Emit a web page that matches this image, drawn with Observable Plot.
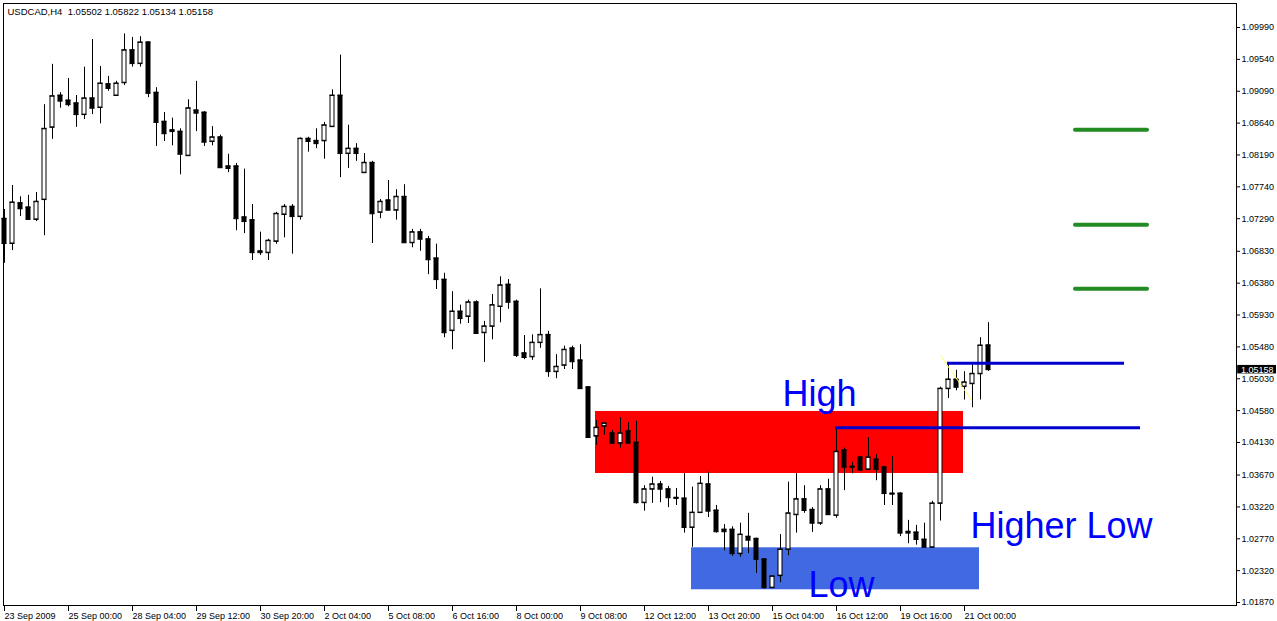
<!DOCTYPE html>
<html><head><meta charset="utf-8">
<script src="https://cdn.jsdelivr.net/npm/d3@7"></script>
<script src="https://cdn.jsdelivr.net/npm/@observablehq/plot@0.6"></script>
<style>body{margin:0;background:#fff;overflow:hidden}svg{display:block}</style>
</head><body><div id="chart"></div>
<script>
// ---- data (USDCAD H4 candles, left to right) ----
const opens = [1.0729,1.0694,1.0751,1.0745,1.0728,1.0756,1.0858,1.0903,1.0896,1.0892,1.0876,1.0899,1.0886,1.0919,1.0903,1.0921,1.0967,1.0948,1.0978,1.0907,1.0866,1.0854,1.0852,1.0818,1.0882,1.0879,1.0838,1.0844,1.0803,1.0803,1.0731,1.0727,1.0683,1.0681,1.0697,1.0735,1.0746,1.0732,1.0842,1.0839,1.0839,1.0859,1.0903,1.0821,1.0828,1.0794,1.0808,1.0738,1.0755,1.0741,1.0760,1.0695,1.0710,1.0700,1.0673,1.0643,1.0571,1.0598,1.0591,1.0611,1.0568,1.0577,1.0605,1.0636,1.0612,1.0539,1.0534,1.0554,1.0565,1.0513,1.0522,1.0546,1.0529,1.0491,1.0422,1.0436,1.0426,1.0412,1.0429,1.0413,1.0328,1.0347,1.0354,1.0347,1.0335,1.0334,1.0293,1.0314,1.0354,1.0317,1.0290,1.0290,1.0256,1.0280,1.0277,1.0248,1.0208,1.0225,1.0262,1.0311,1.0333,1.0318,1.0299,1.0347,1.0310,1.0402,1.0379,1.0392,1.0375,1.0389,1.0378,1.0341,1.0341,1.0287,1.0286,1.0276,1.0265,1.0327,1.0489,1.0502,1.0492,1.0496,1.0510,1.05502];
const highs = [1.0742,1.0776,1.0760,1.0762,1.0766,1.0890,1.0947,1.0907,1.0927,1.0903,1.0943,1.0982,1.0944,1.0930,1.0923,1.0990,1.0985,1.0986,1.0979,1.0914,1.0879,1.0871,1.0856,1.0897,1.0923,1.0880,1.0859,1.0847,1.0820,1.0807,1.0799,1.0749,1.0710,1.0700,1.0738,1.0749,1.0749,1.0843,1.0844,1.0856,1.0865,1.0911,1.0960,1.0861,1.0835,1.0821,1.0810,1.0756,1.0783,1.0770,1.0777,1.0714,1.0714,1.0704,1.0693,1.0652,1.0626,1.0607,1.0614,1.0613,1.0584,1.0622,1.0647,1.0643,1.0614,1.0564,1.0565,1.0630,1.0570,1.0537,1.0549,1.0549,1.0551,1.0491,1.0444,1.0441,1.0430,1.0448,1.0441,1.0443,1.0352,1.0364,1.0358,1.0351,1.0348,1.0369,1.0350,1.0365,1.0371,1.0324,1.0297,1.0294,1.0299,1.0313,1.0278,1.0249,1.0225,1.0283,1.0357,1.0369,1.0352,1.0321,1.0352,1.0361,1.0434,1.0405,1.0385,1.0393,1.0420,1.0396,1.0379,1.0393,1.0342,1.0303,1.0296,1.0299,1.0330,1.0491,1.0526,1.0515,1.0513,1.0523,1.0561,1.05822];
const lows = [1.0666,1.0684,1.0732,1.0727,1.0725,1.0705,1.0841,1.0885,1.0887,1.0858,1.0869,1.0876,1.0863,1.0909,1.0903,1.0917,1.0943,1.0943,1.0900,1.0831,1.0838,1.0832,1.0791,1.0817,1.0852,1.0831,1.0832,1.0800,1.0794,1.0712,1.0708,1.0670,1.0677,1.0670,1.0693,1.0702,1.0679,1.0727,1.0823,1.0828,1.0813,1.0858,1.0787,1.0800,1.0810,1.0794,1.0694,1.0729,1.0741,1.0727,1.0695,1.0688,1.0683,1.0650,1.0629,1.0561,1.0544,1.0580,1.0581,1.0567,1.0526,1.0558,1.0582,1.0601,1.0533,1.0530,1.0529,1.0546,1.0505,1.0503,1.0516,1.0516,1.0489,1.0419,1.0409,1.0423,1.0410,1.0405,1.0411,1.0326,1.0316,1.0327,1.0328,1.0321,1.0324,1.0285,1.0265,1.0313,1.0307,1.0285,1.0260,1.0252,1.0251,1.0256,1.0228,1.0206,1.0207,1.0215,1.0253,1.0285,1.0313,1.0286,1.0296,1.0310,1.0306,1.0345,1.0369,1.0372,1.0374,1.0359,1.0324,1.0324,1.0280,1.0270,1.0268,1.0265,1.0264,1.0302,1.0475,1.0486,1.0473,1.0462,1.0473,1.05134];
const closes = [1.0694,1.0752,1.0743,1.0728,1.0753,1.0856,1.0902,1.0895,1.0890,1.0876,1.0899,1.0885,1.0920,1.0913,1.0920,1.0967,1.0948,1.0978,1.0906,1.0865,1.0849,1.0852,1.0820,1.0885,1.0878,1.0837,1.0844,1.0801,1.0800,1.0729,1.0725,1.0681,1.0681,1.0698,1.0736,1.0746,1.0732,1.0842,1.0838,1.0835,1.0861,1.0903,1.0821,1.0828,1.0821,1.0808,1.0736,1.0753,1.0741,1.0760,1.0695,1.0710,1.0700,1.0671,1.0643,1.0568,1.0598,1.0588,1.0611,1.0567,1.0577,1.0607,1.0635,1.0611,1.0536,1.0533,1.0554,1.0565,1.0513,1.0520,1.0544,1.0527,1.0489,1.0420,1.0434,1.0440,1.0412,1.0426,1.0412,1.0328,1.0347,1.0354,1.0347,1.0335,1.0334,1.0293,1.0314,1.0355,1.0316,1.0287,1.0287,1.0256,1.0283,1.0275,1.0248,1.0208,1.0224,1.0262,1.0313,1.0333,1.0317,1.0299,1.0347,1.0311,1.0400,1.0378,1.0378,1.0374,1.0392,1.0375,1.0341,1.0340,1.0285,1.0285,1.0276,1.0265,1.0327,1.0489,1.0502,1.0491,1.0498,1.0510,1.0550,1.05158];

const headerText = "USDCAD,H4\u00a0\u00a01.05502 1.05822 1.05134 1.05158";
const yTicks = [1.09990,1.09540,1.09090,1.08640,1.08190,1.07740,1.07290,1.06830,1.06380,1.05930,1.05480,1.05030,1.04580,1.04130,1.03670,1.03220,1.02770,1.02320,1.01870];
const xTickIdx = [0,8,16,24,32,40,48,56,64,72,80,88,96,104,112,120];
const xTickLabels = ["23 Sep 2009","25 Sep 00:00","28 Sep 04:00","29 Sep 12:00","30 Sep 20:00","2 Oct 04:00","5 Oct 08:00","6 Oct 16:00","8 Oct 00:00","9 Oct 08:00","12 Oct 12:00","13 Oct 20:00","15 Oct 04:00","16 Oct 12:00","19 Oct 16:00","21 Oct 00:00"];

// zones (bar index range, price range)
const zoneNames = ["resistance","support"];
const zoneX1 = [73.875, 85.875];
const zoneX2 = [119.875, 121.875];
const zoneTop = [1.04568, 1.02643];
const zoneBottom = [1.03692, 1.02050];

// horizontal lines
const blueLevels = [1.04338, 1.05250];
const blueFrom = [103.875, 117.875];
const blueTo = [142, 140];
const greenLevels = [1.08546, 1.07204, 1.06300];
const greenFrom = 133.875, greenTo = 142.875;
// thin yellow trend segment
const trendX = [117, 120.9];
const trendY = [1.05359, 1.04723];

// labels
const labelTexts = ["High","Higher Low","Low"];
const labelX = [97.25, 120.75, 100.5];
const labelY = [1.04646, 1.02785, 1.01942];

// ---- build tables ----
const candles = opens.map((o, i) => ({i, open: o, high: highs[i], low: lows[i], close: closes[i]}));
const bear = candles.filter(d => d.close < d.open);
const bull = candles.filter(d => d.close >= d.open);
const zones = zoneNames.map((n, j) => ({n, x1: zoneX1[j], x2: zoneX2[j], top: zoneTop[j], bottom: zoneBottom[j]}));
const blue = blueLevels.map((y, j) => ({y, x1: blueFrom[j], x2: blueTo[j]}));
const labels = labelTexts.map((t, j) => ({t, x: labelX[j], y: labelY[j]}));
const lastClose = closes[closes.length - 1];

const plot = Plot.plot({
  width: 1277, height: 621,
  marginTop: 3, marginRight: 41, marginBottom: 16, marginLeft: 3,
  x: {domain: [-0.125, 154], axis: null},
  y: {domain: [1.01828, 1.10329], axis: null},
  style: {fontFamily: "'Liberation Sans', Arial, sans-serif", background: "white", color: "black"},
  marks: [
    Plot.rect(zones, {x1: "x1", x2: "x2", y1: "bottom", y2: "top", fill: d => d.n === "resistance" ? "#ff0000" : "#4169e1"}),
    Plot.ruleX(candles, {x: "i", y1: "low", y2: "high", stroke: "black", strokeWidth: 1}),
    Plot.rect(bear, {x1: d => d.i - 0.25, x2: d => d.i + 0.25, y1: "open", y2: "close", fill: "black", stroke: "black", strokeWidth: 1}),
    Plot.rect(bull, {x1: d => d.i - 0.25, x2: d => d.i + 0.25, y1: "open", y2: "close", fill: "white", stroke: "black", strokeWidth: 1}),
    Plot.ruleY(candles, {y: "open", x1: d => d.i - 0.3125, x2: d => d.i + 0.3125, stroke: "black", strokeWidth: 1}),
    Plot.ruleY(candles, {y: "close", x1: d => d.i - 0.3125, x2: d => d.i + 0.3125, stroke: "black", strokeWidth: 1}),
    Plot.link([0], {x1: trendX[0], y1: trendY[0], x2: trendX[1], y2: trendY[1], stroke: "#ffff66", strokeWidth: 1}),
    Plot.ruleY(blue, {y: "y", x1: "x1", x2: "x2", stroke: "#0000cd", strokeWidth: 3}),
    Plot.ruleY(greenLevels, {y: d => d, x1: greenFrom, x2: greenTo, stroke: "#228b22", strokeWidth: 4, strokeLinecap: "round"}),
    Plot.text(labels, {x: "x", y: "y", text: "t", fill: "#0000ff", fontSize: 36, textAnchor: "start", lineAnchor: "bottom"}),
    Plot.frame({stroke: "black"}),
    Plot.axisY({anchor: "right", ticks: yTicks, tickSize: 3, tickPadding: 2, tickFormat: d => d.toFixed(5), fontSize: 9}),
    Plot.axisX({anchor: "bottom", ticks: xTickIdx, tickSize: 6, tickPadding: 1, tickFormat: d => xTickLabels[xTickIdx.indexOf(d)], textAnchor: "start", fontSize: 9}),
    Plot.rect([lastClose], {x1: 154.15, x2: 159, y1: d => d - 0.0006, y2: d => d + 0.0006, fill: "black"}),
    Plot.text([lastClose], {x: 154.55, y: d => d, text: d => d.toFixed(5), fill: "white", fontSize: 9, textAnchor: "start"}),
    Plot.text([headerText], {frameAnchor: "top-left", dx: 4, dy: 5, lineAnchor: "top", textAnchor: "start", fontSize: 9.5})
  ]
});
document.getElementById("chart").appendChild(plot);
</script></body></html>
